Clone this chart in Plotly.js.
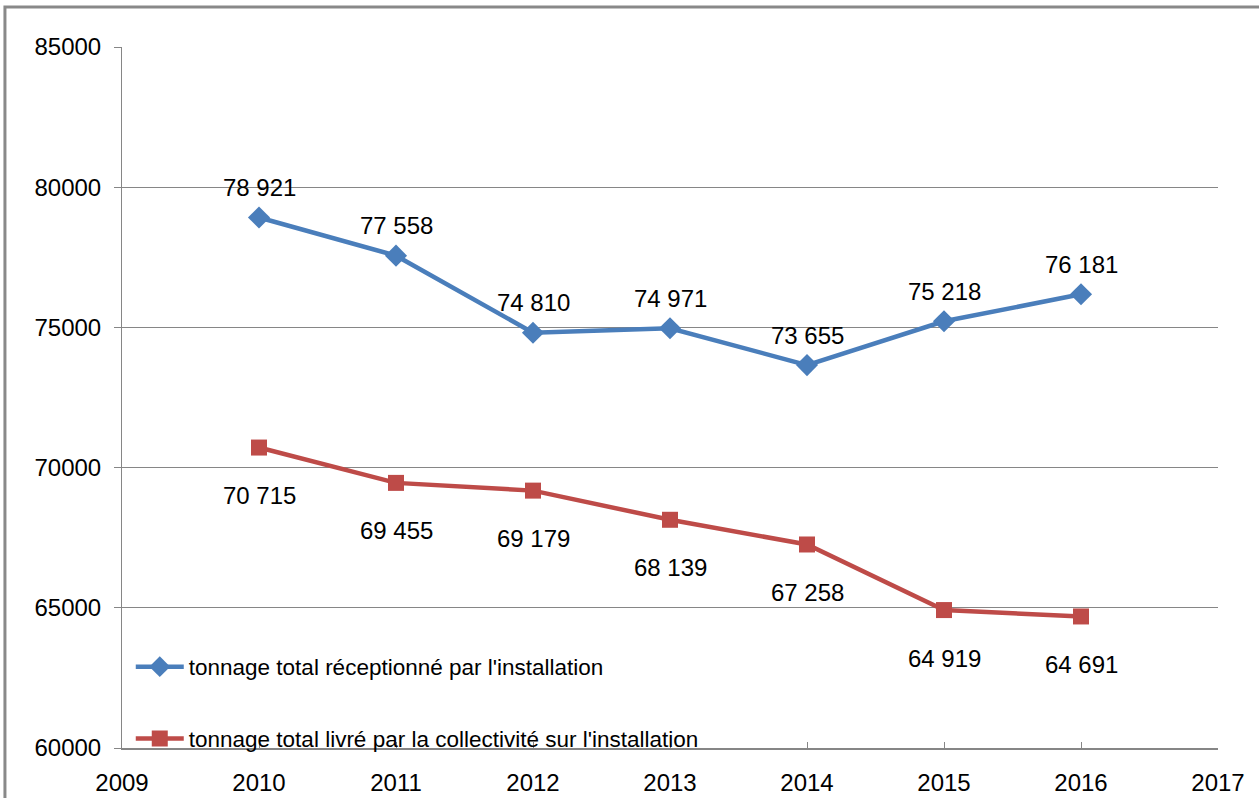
<!DOCTYPE html>
<html>
<head>
<meta charset="utf-8">
<script src="https://cdn.plot.ly/plotly-3.0.1.min.js"></script>
<style>html,body{margin:0;padding:0;background:#fff;}#chart{width:1259px;height:798px;}</style>
</head>
<body>
<div id="chart"></div>
<script>
var years = [2010, 2011, 2012, 2013, 2014, 2015, 2016];
var recu = [78921, 77558, 74810, 74971, 73655, 75218, 76181];
var livre = [70715, 69455, 69179, 68139, 67258, 64919, 64691];
var nameRecu = "tonnage total réceptionné par l'installation";
var nameLivre = "tonnage total livré par la collectivité sur l'installation";
var xTicks = [2009, 2010, 2011, 2012, 2013, 2014, 2015, 2016, 2017];
var yTicks = [60000, 65000, 70000, 75000, 80000, 85000];

function fmt(v) {
  return String(v).replace(/\B(?=(\d{3})+(?!\d))/g, " ");
}
var FONT = "Liberation Sans, Arial, sans-serif";
var BLUE = "#4a7ebb", RED = "#be4b48";

var traces = [
  {x: years, y: recu, name: nameRecu, mode: "lines+markers", type: "scatter",
   line: {color: BLUE, width: 4.5}, marker: {symbol: "diamond", size: 17, color: BLUE},
   legend: "legend"},
  {x: years, y: livre, name: nameLivre, mode: "lines+markers", type: "scatter",
   line: {color: RED, width: 4.5}, marker: {symbol: "square", size: 16, color: RED},
   legend: "legend2"}
];

var annotations = [];
years.forEach(function (yr, i) {
  annotations.push({x: yr, y: recu[i], text: fmt(recu[i]), showarrow: false, yshift: 30,
    font: {family: FONT, size: 24, color: "#000"}});
  annotations.push({x: yr, y: livre[i], text: fmt(livre[i]), showarrow: false, yshift: -48,
    font: {family: FONT, size: 24, color: "#000"}});
});

var layout = {
  width: 1259, height: 798,
  margin: {l: 122, r: 41, t: 47, b: 50},
  paper_bgcolor: "#fff", plot_bgcolor: "#fff",
  font: {family: FONT, size: 23, color: "#000"},
  showlegend: true,
  legend: {x: 0.008, y: 0.1155, xanchor: "left", yanchor: "middle", bgcolor: "rgba(0,0,0,0)",
    itemwidth: 48, font: {family: FONT, size: 22.5, color: "#000"}},
  legend2: {x: 0.008, y: 0.013, xanchor: "left", yanchor: "middle", bgcolor: "rgba(0,0,0,0)",
    itemwidth: 48, font: {family: FONT, size: 22.5, color: "#000"}},
  xaxis: {range: [2009, 2017], tickvals: xTicks, ticktext: xTicks.map(String),
    showgrid: false, zeroline: false, showline: true, linecolor: "#868686", linewidth: 2,
    ticks: "inside", ticklen: 6, tickcolor: "#868686", ticklabelstandoff: 12,
    tickfont: {family: FONT, size: 24, color: "#000"}},
  yaxis: {range: [60000, 85000], tickvals: yTicks, ticktext: yTicks.map(String),
    showgrid: true, gridcolor: "#868686", gridwidth: 1, zeroline: false,
    showline: true, linecolor: "#868686", linewidth: 1,
    ticks: "outside", ticklen: 7, tickcolor: "#868686", ticklabelstandoff: 8,
    tickfont: {family: FONT, size: 24, color: "#000"}},
  annotations: annotations,
  shapes: [{type: "rect", xref: "paper", yref: "paper", x0: -0.1068, x1: 1.3, y0: -0.3, y1: 1.0571,
    line: {color: "#898989", width: 3}, fillcolor: "rgba(0,0,0,0)", layer: "below"}]
};

Plotly.newPlot("chart", traces, layout, {displayModeBar: false, staticPlot: true});
</script>
</body>
</html>
